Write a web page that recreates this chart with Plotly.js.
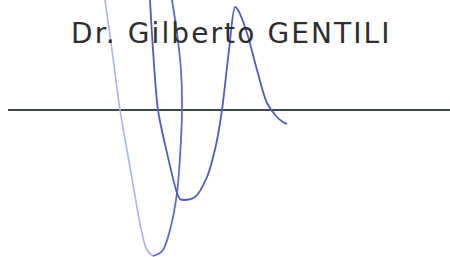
<!DOCTYPE html>
<html>
<head>
<meta charset="utf-8">
<script src="https://cdn.plot.ly/plotly-3.0.1.min.js"></script>
<style>
html,body{margin:0;padding:0;background:#fff;}
#chart{width:450px;height:257px;}
#chart .annotation-text{letter-spacing:2.1px;}
</style>
</head>
<body>
<div id="chart"></div>
<script>
// Signature text
const nameText = "Dr. Gilberto GENTILI";

// Stroke 1: light left leg of the big loop (top -> bottom)
const loopLightX = [105, 112, 120, 130, 142, 147, 153];
const loopLightY = [0, 50, 110, 167, 233, 250, 256];

// Stroke 1: darker right leg of the big loop (bottom -> top)
const loopDarkX = [153, 158, 163, 170, 177, 180, 182, 181, 177, 172];
const loopDarkY = [256, 254, 250, 230, 193, 157, 110, 70, 33, 0];

// Stroke 2: middle stroke with small loop, peak and tail
const strokeX = [150, 153, 158, 167, 177, 180, 184, 195, 207, 216, 222, 229, 235, 238, 247, 257, 267, 276, 283, 287];
const strokeY = [0, 50, 110, 153, 193, 199, 200, 197, 177, 145, 110, 50, 7, 10, 33, 70, 103, 116, 122, 124];

const traces = [
  {x: loopLightX, y: loopLightY, mode: "lines", type: "scatter",
   line: {color: "#a6b6e6", width: 1.6, shape: "spline", smoothing: 1}, hoverinfo: "skip"},
  {x: loopDarkX, y: loopDarkY, mode: "lines", type: "scatter",
   line: {color: "#5c6cc4", width: 1.8, shape: "spline", smoothing: 1}, hoverinfo: "skip"},
  {x: strokeX, y: strokeY, mode: "lines", type: "scatter",
   line: {color: "#4f5fb8", width: 1.8, shape: "spline", smoothing: 0.8}, hoverinfo: "skip"}
];

const layout = {
  width: 450, height: 257,
  margin: {l: 0, r: 0, t: 0, b: 0},
  paper_bgcolor: "#ffffff", plot_bgcolor: "#ffffff",
  showlegend: false,
  xaxis: {range: [0, 450], visible: false, fixedrange: true},
  yaxis: {range: [257, 0], visible: false, fixedrange: true},
  shapes: [
    {type: "line", xref: "x", yref: "y", x0: 8, x1: 450, y0: 110, y1: 110,
     line: {color: "#3e484c", width: 2}, layer: "below"}
  ],
  annotations: [
    {text: nameText, xref: "x", yref: "y", x: 231.5, y: 33, showarrow: false,
     xanchor: "center", yanchor: "middle",
     font: {family: "DejaVu Sans, Verdana, sans-serif", size: 28, color: "#2e2e2e"}}
  ]
};

Plotly.newPlot("chart", traces, layout, {staticPlot: true, displayModeBar: false});
</script>
</body>
</html>
